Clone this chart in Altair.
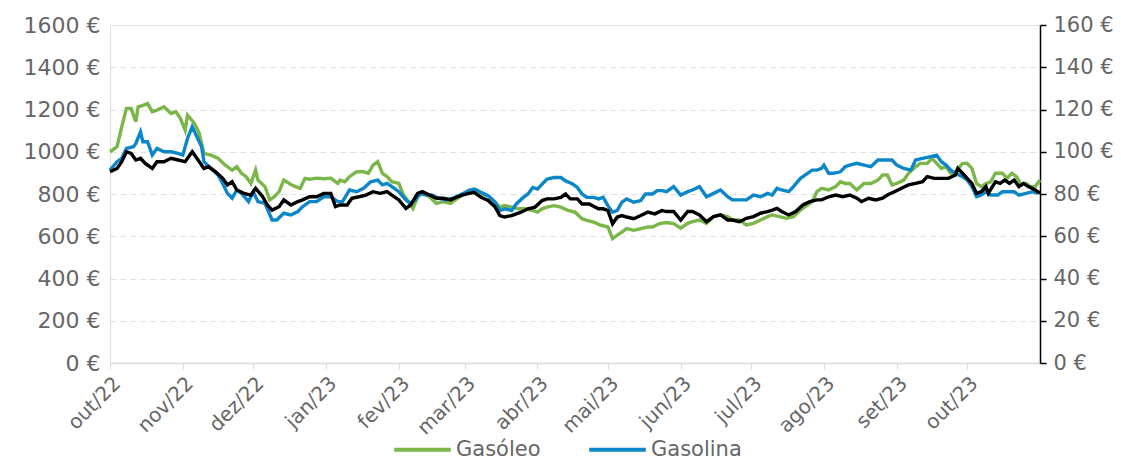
import altair as alt
import pandas as pd

START = "2022-10-01"

gasoleo_days = [0,3,5,7,9,11,12,14,16,18,20,23,26,28,30,32,33,36,38,40,43,46,49,52,54,56,58,60,62,63,66,68,70,72,74,77,79,
    81,83,85,88,91,94,97,98,100,102,105,108,110,112,114,116,118,120,123,125,127,129,131,133,136,139,142,145,148,150,153,156,
    158,161,164,166,168,171,174,177,180,182,184,186,189,192,195,198,201,203,206,209,212,214,216,218,220,223,226,229,231,
    234,237,240,243,246,248,251,254,257,260,263,265,268,271,274,277,280,282,285,288,291,294,297,299,301,303,306,309,311,313,315,
    318,321,324,327,329,331,333,335,338,340,343,345,348,350,352,354,356,358,360,363,365,367,369,371,373,375,377,380,382,384,386,388,390,392,394,396]
gasoleo_vals = [1000,1024,1118,1205,1205,1142,1213,1220,1228,1190,1197,1213,1181,1190,1157,1102,1173,1134,1087,992,984,969,937,913,929,898,882,850,913,866,835,772,787,811,866,845,835,
    827,874,870,875,872,875,850,866,858,882,905,905,898,937,953,898,882,858,850,795,764,732,787,803,787,756,764,756,780,795,819,820,
    800,792,761,738,745,738,730,730,722,714,730,738,745,738,722,714,683,675,667,652,644,589,605,620,636,628,636,644,644,
    660,665,660,638,661,669,677,661,693,701,693,677,677,654,661,677,693,701,693,685,693,724,748,764,811,827,819,835,858,850,850,
    819,850,850,866,890,890,843,850,866,898,929,945,945,969,945,921,929,898,905,945,945,921,850,835,850,858,898,898,874,898,882,843,850,835,835,866]

gasolina_days = [0,3,5,7,10,11,13,14,16,18,20,23,26,29,31,33,35,37,39,40,43,46,48,50,52,54,56,59,61,63,66,69,71,74,77,80,82,85,88,91,94,97,99,
    102,105,108,111,114,116,118,120,123,126,128,130,132,135,137,140,143,146,149,152,155,158,161,164,166,168,171,173,176,178,180,182,184,186,189,192,194,
    197,199,201,203,206,208,210,212,214,216,218,220,223,226,228,231,233,235,237,240,243,246,248,251,254,257,260,263,265,268,271,274,277,280,282,284,286,
    289,291,294,297,299,301,303,304,306,308,311,313,315,318,321,324,327,330,333,335,338,341,343,346,349,352,354,356,358,360,363,365,367,369,371,373,375,378,380,382,385,387,390,393,395]
gasolina_vals = [913,953,969,1016,1024,1039,1094,1047,1047,984,1016,1000,1000,992,984,1063,1118,1071,1024,953,921,890,850,803,780,819,803,764,811,764,756,677,677,709,701,717,740,764,764,787,787,764,764,
    819,811,827,858,866,843,850,835,811,772,756,772,803,795,795,780,772,780,795,811,823,808,792,761,722,730,722,753,784,800,831,823,847,870,878,878,862,
    847,831,800,784,784,777,784,745,714,722,761,777,761,769,800,800,816,816,811,835,795,811,819,835,787,803,819,787,772,772,772,795,787,803,795,827,819,
    811,835,874,898,913,913,921,937,898,898,905,929,937,945,937,929,961,961,961,937,921,913,961,969,976,984,953,937,913,898,882,866,835,787,795,811,795,795,811,811,811,795,803,811,803]

brent_days = [0,3,5,7,9,11,13,15,18,20,23,26,29,32,35,37,40,42,45,48,50,52,54,57,60,62,65,67,69,72,74,77,80,82,85,88,91,94,96,98,101,103,106,109,112,115,118,120,
    123,126,128,131,133,136,139,142,145,148,150,153,155,158,161,164,166,168,171,173,175,178,181,184,186,189,192,194,196,199,201,204,208,210,212,214,216,218,220,223,226,229,232,
    235,237,240,243,246,248,251,254,257,260,263,265,268,271,274,277,280,282,284,286,289,292,295,298,301,303,306,309,312,315,318,320,323,326,329,331,334,337,340,343,346,348,
    351,354,357,360,361,363,365,367,369,371,373,374,377,379,381,383,385,387,389,391,394,396]
brent_vals = [90.5,92.1,95.3,100.0,99.2,96.1,96.9,94.5,92.1,95.3,95.3,96.9,96.1,95.3,100.0,96.9,92.1,92.9,90.5,87.4,84.3,85.8,81.9,80.3,79.5,82.7,78.7,74.8,72.4,74.0,77.2,74.8,76.4,77.2,78.7,78.7,80.3,80.3,74.0,74.8,74.8,78.0,78.7,79.5,81.1,80.3,81.1,79.5,
    77.2,73.2,74.8,80.3,81.1,79.5,78.0,78.0,77.2,78.7,79.5,80.3,80.8,78.4,76.9,73.8,69.8,69.1,69.8,70.6,71.4,73.0,73.8,76.9,77.7,77.7,78.4,80.0,77.7,77.7,75.3,75.3,73.0,73.0,72.2,65.9,69.1,69.8,69.1,68.3,69.8,71.4,70.6,
    72.2,71.7,71.7,67.7,71.7,71.7,70.1,66.9,69.3,70.1,67.7,67.7,66.9,68.5,69.3,70.9,71.7,72.4,73.2,71.7,70.1,71.7,74.8,76.4,77.2,77.2,78.7,79.5,78.7,79.5,78.0,76.4,78.0,77.2,78.0,79.5,81.1,82.7,84.3,85.0,85.8,88.2,
    87.4,87.4,87.4,89.0,92.1,89.8,87.4,85.0,80.3,81.1,83.5,80.3,85.8,85.0,86.6,85.0,86.6,83.5,85.0,83.5,81.9,80.3]

legend_labels = ["Gasóleo", "Gasolina"]
legend_colors = ["#7ab648", "#0a86c9"]

month_ticks = [{"year": 2022 + (9 + i) // 12, "month": (9 + i) % 12 + 1, "date": 1} for i in range(13)]


def to_dates(days):
    return pd.Timestamp(START) + pd.to_timedelta(days, unit="D")


fuel = pd.concat([
    pd.DataFrame({"date": to_dates(gasoleo_days), "value": gasoleo_vals, "serie": "Gasóleo"}),
    pd.DataFrame({"date": to_dates(gasolina_days), "value": gasolina_vals, "serie": "Gasolina"}),
])
brent = pd.DataFrame({"date": to_dates(brent_days), "value": brent_vals})

FONT = "DejaVu Sans"
GREY = "#666666"

x_enc = alt.X(
    "date:T",
    scale=alt.Scale(domain=[{"year": 2022, "month": 10, "date": 1}, {"year": 2023, "month": 11, "date": 1}]),
    axis=alt.Axis(
        title=None, values=month_ticks, grid=False,
        labelExpr="['jan','fev','mar','abr','mai','jun','jul','ago','set','out','nov','dez'][month(datum.value)] + '/' + timeFormat(datum.value, '%y')",
        labelAngle=-45, labelAlign="right", labelBaseline="top",
        labelFont=FONT, labelFontSize=20, labelColor=GREY, labelPadding=4,
        domainColor="#d9d9d9", domainWidth=1.5, tickColor="#d9d9d9", tickSize=6,
        labelOverlap=False,
    ),
)

fuel_layer = alt.Chart(fuel).mark_line(strokeWidth=3.4, interpolate="linear").encode(
    x=x_enc,
    y=alt.Y(
        "value:Q",
        scale=alt.Scale(domain=[0, 1600], nice=False),
        axis=alt.Axis(
            title=None, values=list(range(0, 1601, 200)), labelExpr="datum.value + ' €'",
            orient="left", domain=False, ticks=False, grid=True,
            gridColor="#e0e0e0", gridDash=[6, 4], gridWidth=1.2,
            labelFont=FONT, labelFontSize=22, labelColor=GREY, labelPadding=10,
        ),
    ),
    color=alt.Color(
        "serie:N",
        scale=alt.Scale(domain=legend_labels, range=legend_colors),
        legend=alt.Legend(
            title=None, orient="none", legendX=282, legendY=394, direction="horizontal",
            symbolType="stroke", symbolStrokeWidth=4, symbolSize=3200,
            labelFont=FONT, labelFontSize=21, labelColor=GREY,
            columnPadding=40, labelOffset=3,
        ),
    ),
)

brent_layer = alt.Chart(brent).mark_line(strokeWidth=3.4, color="#000000").encode(
    x=x_enc,
    y=alt.Y(
        "value:Q",
        scale=alt.Scale(domain=[0, 160], nice=False),
        axis=alt.Axis(
            title=None, values=list(range(0, 161, 20)), labelExpr="datum.value + ' €'",
            orient="right", grid=False, domainColor="#000000", domainWidth=1.5,
            tickColor="#000000", tickSize=6, tickWidth=1.5,
            labelFont=FONT, labelFontSize=21, labelColor=GREY, labelPadding=7,
        ),
    ),
)

chart = alt.layer(fuel_layer, brent_layer).resolve_scale(y="independent").properties(
    width=930, height=338,
    autosize=alt.AutoSizeParams(type="none"),
    padding={"left": 102, "top": 17, "right": 73, "bottom": 97},
).configure_view(stroke=None).configure(background="white")

chart.save("out.html", embed_options={"renderer": "svg", "actions": False})
